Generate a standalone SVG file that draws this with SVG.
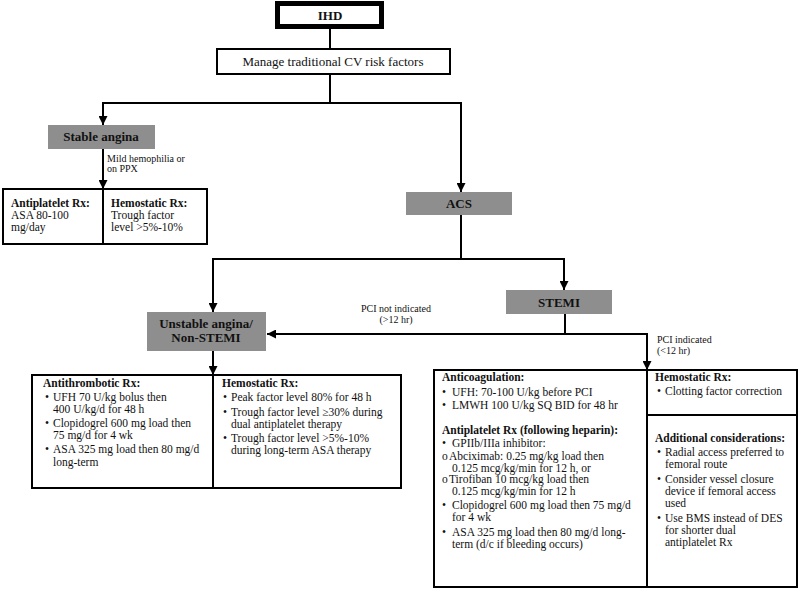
<svg xmlns="http://www.w3.org/2000/svg" width="800" height="589" viewBox="0 0 800 589">
<style>
text{font-family:"Liberation Serif","Times New Roman",serif;fill:#111}
.box{fill:#fff;stroke:#000;stroke-width:2}
.gray{fill:#8e8e8e;stroke:none}
.t13{font-size:13px}
.b{font-weight:bold}
.t12{font-size:11.5px}
.lbl{font-size:10px}
.c{text-anchor:middle}
.con{fill:none;stroke:#000;stroke-width:2}
</style>
<defs>
<marker id="ah" viewBox="0 0 10 10" refX="10" refY="5" markerWidth="9" markerHeight="9" markerUnits="userSpaceOnUse" orient="auto">
<path d="M0,0 L10,5 L0,10 z" fill="#000"/>
</marker>
</defs>
<rect width="800" height="589" fill="#fff"/>

<g id="connectors">
<path class="con" d="M330,29 V49"/>
<path class="con" d="M330,74 V103 H103 V125" marker-end="url(#ah)"/>
<path class="con" d="M330,103 H461 V192" marker-end="url(#ah)"/>
<path class="con" d="M103,149 V189" marker-end="url(#ah)"/>
<path class="con" d="M461,215 V259 H213 V312" marker-end="url(#ah)"/>
<path class="con" d="M461,259 H564 V290" marker-end="url(#ah)"/>
<path class="con" d="M565,314 V334 H267" marker-end="url(#ah)"/>
<path class="con" d="M565,334 H647 V370" marker-end="url(#ah)"/>
<path class="con" d="M213,351 V375" marker-end="url(#ah)"/>
<text class="lbl" x="107" y="162">Mild hemophilia or</text>
<text class="lbl" x="107" y="172">on PPX</text>
<text class="lbl c" x="396" y="312">PCI not indicated</text>
<text class="lbl c" x="396" y="323">(&gt;12 hr)</text>
<text class="lbl" x="657" y="343">PCI indicated</text>
<text class="lbl" x="657" y="354">(&lt;12 hr)</text>
</g>

<g id="ihd">
<rect x="277.5" y="3.5" width="104" height="23" fill="#fff" stroke="#000" stroke-width="5"/>
<text class="t13 b c" x="330" y="20">IHD</text>
</g>

<g id="manage">
<rect class="box" x="217" y="49" width="233" height="25"/>
<text class="t13 c" x="333" y="66">Manage traditional CV risk factors</text>
</g>

<g id="stable">
<rect class="gray" x="48" y="125" width="107" height="24"/>
<text class="t13 b c" x="101" y="141">Stable angina</text>
</g>

<g id="stable-rx">
<rect class="box" x="3" y="189" width="204" height="55"/>
<line x1="103" y1="189" x2="103" y2="244" stroke="#000" stroke-width="2"/>
<text class="t12 b" x="11" y="207">Antiplatelet Rx:</text>
<text class="t12" x="11" y="219">ASA 80-100</text>
<text class="t12" x="11" y="231">mg/day</text>
<text class="t12 b" x="111" y="207">Hemostatic Rx:</text>
<text class="t12" x="111" y="219">Trough factor</text>
<text class="t12" x="111" y="231">level &gt;5%-10%</text>
</g>

<g id="acs">
<rect class="gray" x="406" y="192" width="106" height="23"/>
<text class="t13 b c" x="459" y="208">ACS</text>
</g>

<g id="stemi">
<rect class="gray" x="506" y="290" width="106" height="24"/>
<text class="t13 b c" x="559" y="307">STEMI</text>
</g>

<g id="unstable">
<rect class="gray" x="147" y="312" width="119" height="39"/>
<text class="t13 b c" x="206" y="328">Unstable angina/</text>
<text class="t13 b c" x="206" y="342">Non-STEMI</text>
</g>

<g id="unstable-rx">
<rect class="box" x="32" y="375" width="369" height="113"/>
<line x1="213" y1="375" x2="213" y2="488" stroke="#000" stroke-width="2"/>
<text class="t12 b" x="43" y="387">Antithrombotic Rx:</text>
<text class="t12" x="45" y="401">•</text><text class="t12" x="53" y="401">UFH 70 U/kg bolus then</text>
<text class="t12" x="53" y="413">400 U/kg/d for 48 h</text>
<text class="t12" x="45" y="427">•</text><text class="t12" x="53" y="427">Clopidogrel 600 mg load then</text>
<text class="t12" x="53" y="439">75 mg/d for 4 wk</text>
<text class="t12" x="45" y="453">•</text><text class="t12" x="53" y="453">ASA 325 mg load then 80 mg/d</text>
<text class="t12" x="53" y="466">long-term</text>
<text class="t12 b" x="222" y="387">Hemostatic Rx:</text>
<text class="t12" x="223" y="401">•</text><text class="t12" x="231" y="401">Peak factor level 80% for 48 h</text>
<text class="t12" x="223" y="416">•</text><text class="t12" x="231" y="416">Trough factor level ≥30% during</text>
<text class="t12" x="231" y="428">dual antiplatelet therapy</text>
<text class="t12" x="223" y="442">•</text><text class="t12" x="231" y="442">Trough factor level &gt;5%-10%</text>
<text class="t12" x="231" y="454">during long-term ASA therapy</text>
</g>

<g id="stemi-rx">
<rect class="box" x="434" y="370" width="363" height="217"/>
<line x1="647" y1="370" x2="647" y2="587" stroke="#000" stroke-width="2"/>
<line x1="647" y1="415" x2="797" y2="415" stroke="#000" stroke-width="2"/>
<text class="t12 b" x="442" y="381">Anticoagulation:</text>
<text class="t12" x="442" y="396">•</text><text class="t12" x="452" y="396">UFH: 70-100 U/kg before PCI</text>
<text class="t12" x="442" y="409">•</text><text class="t12" x="452" y="409">LMWH 100 U/kg SQ BID for 48 hr</text>
<text class="t12 b" x="442" y="434">Antiplatelet Rx (following heparin):</text>
<text class="t12" x="442" y="447">•</text><text class="t12" x="452" y="447">GPIIb/IIIa inhibitor:</text>
<text class="t12" x="442" y="460">o</text><text class="t12" x="449" y="460">Abciximab: 0.25 mg/kg load then</text>
<text class="t12" x="452" y="472">0.125 mcg/kg/min for 12 h, or</text>
<text class="t12" x="442" y="483">o</text><text class="t12" x="449" y="483">Tirofiban 10 mcg/kg load then</text>
<text class="t12" x="452" y="495">0.125 mcg/kg/min for 12 h</text>
<text class="t12" x="442" y="509">•</text><text class="t12" x="452" y="509">Clopidogrel 600 mg load then 75 mg/d</text>
<text class="t12" x="452" y="521">for 4 wk</text>
<text class="t12" x="442" y="536">•</text><text class="t12" x="452" y="536">ASA 325 mg load then 80 mg/d long-</text>
<text class="t12" x="452" y="548">term (d/c if bleeding occurs)</text>
<text class="t12 b" x="655" y="381">Hemostatic Rx:</text>
<text class="t12" x="657" y="395">•</text><text class="t12" x="665" y="395">Clotting factor correction</text>
<text class="t12 b" x="655" y="442">Additional considerations:</text>
<text class="t12" x="657" y="456">•</text><text class="t12" x="665" y="456">Radial access preferred to</text>
<text class="t12" x="665" y="468">femoral route</text>
<text class="t12" x="657" y="483">•</text><text class="t12" x="665" y="483">Consider vessel closure</text>
<text class="t12" x="665" y="495">device if femoral access</text>
<text class="t12" x="665" y="507">used</text>
<text class="t12" x="657" y="522">•</text><text class="t12" x="665" y="522">Use BMS instead of DES</text>
<text class="t12" x="665" y="534">for shorter dual</text>
<text class="t12" x="665" y="546">antiplatelet Rx</text>
</g>
</svg>
